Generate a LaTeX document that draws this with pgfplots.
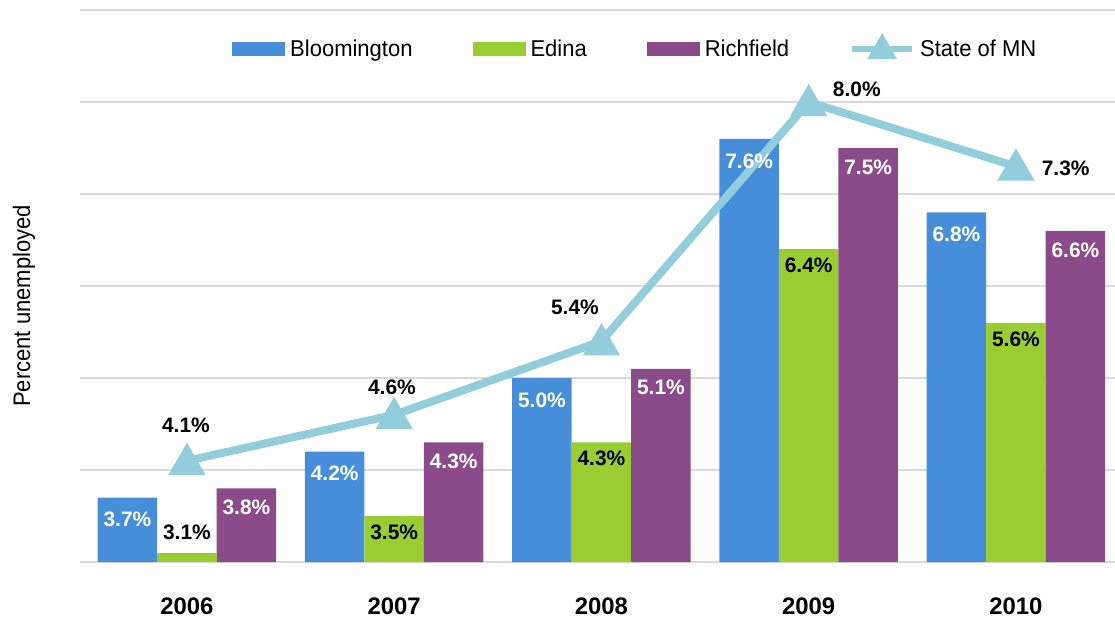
\documentclass[border=0pt]{standalone}
\usepackage{pgfplots}
\pgfplotsset{compat=1.18}
\usepackage{pgfplotstable}
\usepackage{fontspec}
\setmainfont{Liberation Sans}
\newfontfamily\condfont{Liberation Sans}[FakeStretch=0.92]
\newfontfamily\legfont{Liberation Sans}[FakeStretch=0.96]
\definecolor{cBlue}{HTML}{468EDA}
\definecolor{cGreen}{HTML}{9ACD32}
\definecolor{cPurple}{HTML}{8B4A89}
\definecolor{cLine}{HTML}{92CDDC}
\definecolor{cGrid}{HTML}{D9D9D9}

\pgfplotsset{
  bar legend/.style={legend image code/.code={\fill[##1] (0bp,-7bp) rectangle (53bp,7bp);}},
  tri legend/.style={legend image code/.code={\draw[cLine, line width=6bp] (0bp,0bp) -- (60bp,0bp); \fill[cLine] (22bp,-6bp) -- (30bp,8bp) -- (38bp,-6bp) -- cycle;}},
  barlabel/.style n args={3}{nodes near coords={\pgfmathprintnumber[fixed,fixed zerofill,precision=1]{\pgfplotspointmeta}\%},
    every node near coord/.append style={anchor=center, xshift=#3, yshift=#2, font=\bfseries\fontsize{21}{21}\selectfont, text=#1}},
}

\pgfplotstableread{
x y
2006 3.7
2007 4.2
2008 5.0
2009 7.6
2010 6.8
}\bloom
\pgfplotstableread{
x y
2007 3.5
2008 4.3
2009 6.4
2010 5.6
}\edina
\pgfplotstableread{
x y
2006 3.1
}\edinaA
\pgfplotstableread{
x y
2006 3.8
2007 4.3
2008 5.1
2009 7.5
2010 6.6
}\richfield
\pgfplotstableread{
x y
2006 4.1
2007 4.6
2008 5.4
2009 8.0
2010 7.3
}\state

\begin{document}
\begin{tikzpicture}
\begin{axis}[
  width=1035bp, height=552bp, scale only axis,
  xmin=2005.484, xmax=2010.478, ymin=3, ymax=9,
  xtick={2006,2007,2008,2009,2010},
  ytick={3,4,5,6,7,8,9}, yticklabels={},
  /pgf/number format/.cd, 1000 sep={}, assume math mode=true, /pgfplots/.cd,
  xticklabel style={font=\bfseries\fontsize{24}{24}\selectfont, anchor=center, yshift=-44bp},
  ymajorgrids, major grid style={cGrid, line width=2.5bp},
  axis line style={draw=none}, major tick length=0pt, tick style={draw=none},
  ylabel={Percent unemployed},
  ylabel style={font=\condfont\fontsize{24}{24}\selectfont, at={(axis description cs:-0.0541,0.4638)}, anchor=center},
  legend columns=4,
  legend style={at={(0.1469,0.931)}, anchor=west, draw=none, fill=none, inner sep=0pt,
    font=\legfont\fontsize{23}{23}\selectfont,
    nodes={inner sep=0pt},
    /tikz/every odd column/.append style={column sep=5bp},
    /tikz/every even column/.append style={column sep=60bp}},
  legend cell align=left,
]
\addplot[ybar, bar width=59.5bp, bar shift=-59.5bp, fill=cBlue, draw=none, bar legend, barlabel={white}{-22bp}{-59.5bp}] table[x=x,y=y] {\bloom};
\addlegendentry{Bloomington}
\addplot[ybar, bar width=59.5bp, bar shift=0bp, fill=cGreen, draw=none, bar legend, barlabel={black}{-16bp}{0bp}] table[x=x,y=y] {\edina};
\addlegendentry{Edina}
\addplot[ybar, bar width=59.5bp, bar shift=59.5bp, fill=cPurple, draw=none, bar legend, barlabel={white}{-19bp}{59.5bp}] table[x=x,y=y] {\richfield};
\addlegendentry{Richfield}
\addplot[cLine, line width=8bp, mark=triangle*, mark size=13.5bp, mark options={solid, fill=cLine, draw=none, yshift=-3.4bp}, tri legend]
  table[x=x,y=y] {\state};
\addlegendentry{State of MN}
\addplot[ybar, bar width=59.5bp, bar shift=0bp, fill=cGreen, draw=none, forget plot, barlabel={black}{21bp}{0bp}] table[x=x,y=y] {\edinaA};
\node[font=\bfseries\fontsize{21}{21}\selectfont] at (axis cs:2005.995,4.489) {4.1\%};
\node[font=\bfseries\fontsize{21}{21}\selectfont] at (axis cs:2006.989,4.902) {4.6\%};
\node[font=\bfseries\fontsize{21}{21}\selectfont] at (axis cs:2007.872,5.772) {5.4\%};
\node[font=\bfseries\fontsize{21}{21}\selectfont] at (axis cs:2009.232,8.141) {8.0\%};
\node[font=\bfseries\fontsize{21}{21}\selectfont] at (axis cs:2010.240,7.283) {7.3\%};
\coordinate (bl) at (rel axis cs:0,0);
\coordinate (tr) at (rel axis cs:1,1);
\end{axis}
\pgfresetboundingbox
\path[use as bounding box] ([xshift=-80bp,yshift=-56bp]bl) rectangle ([yshift=10bp]tr);
\end{tikzpicture}
\end{document}
